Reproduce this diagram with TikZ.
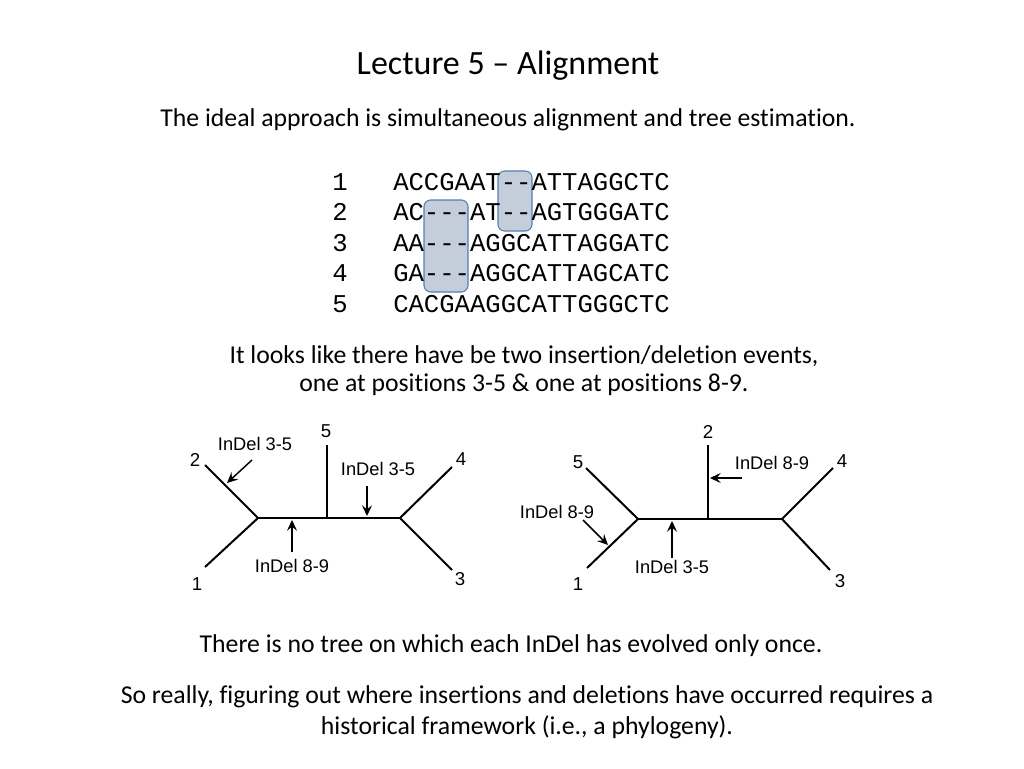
\documentclass[tikz,border=0pt]{standalone}
\usepackage{fontspec}
\setmainfont{Carlito}[Ligatures={TeX,NoCommon}]
\newfontfamily\alnfont{Liberation Mono}
\newfontfamily\treefont{Liberation Sans}
\usetikzlibrary{arrows.meta, calc}
\definecolor{gapfill}{RGB}{196,206,219}
\definecolor{gapedge}{RGB}{88,124,176}

\begin{document}
\begin{tikzpicture}[x=0.75pt,y=-0.75pt,
    slidetext/.style={font=\fontsize{19.3}{22}\selectfont, inner sep=0pt},
    titletext/.style={font=\fontsize{25.5}{30}\selectfont, inner sep=0pt},
    seqtext/.style={font=\alnfont\fontsize{19.2}{22}\selectfont, inner sep=0pt, anchor=base west},
    gapbox/.style={draw=gapedge, fill=gapfill, rounded corners=5pt, line width=0.8pt},
    branch/.style={line width=1.5pt},
    leaflab/.style={font=\treefont\fontsize{14}{16}\selectfont, inner sep=0pt},
    eventlab/.style={font=\treefont\fontsize{13.7}{16}\selectfont, inner sep=0pt},
    event/.style={line width=1.1pt, -{Stealth[length=8pt,width=7.5pt,inset=3pt]}}]
        \useasboundingbox (0,0) rectangle (1024,768);
        \node[titletext] (title) at (508,66) {Lecture 5 -- Alignment};
        \node[slidetext] (intro) at (508,120) {The ideal approach is simultaneous alignment and tree estimation.};
        % alignment
        \draw[gapbox] (424,200) rectangle (468,292);
        \draw[gapbox] (498,171) rectangle (532,231);
        \foreach \i/\s in {1/ACCGAAT--ATTAGGCTC, 2/AC---AT--AGTGGGATC, 3/AA---AGGCATTAGGATC,
                           4/GA---AGGCATTAGCATC, 5/CACGAAGGCATTGGGCTC} {
            \node[seqtext, anchor=base] (num\i) at (340,{190+(\i-1)*30.5}) {\i};
            \node[seqtext] (seq\i) at (393,{190+(\i-1)*30.5}) {\s};
        }
        \node[slidetext] (obs1) at (524,356) {It looks like there have be two insertion/deletion events,};
        \node[slidetext] (obs2) at (524,385) {one at positions 3-5 \& one at positions 8-9.};
        % left tree
        \coordinate (la) at (258,518);
        \coordinate (lb) at (400,518);
        \coordinate (lm) at (327,518);
        \coordinate (l1) at (205,567);
        \coordinate (l2) at (205,465);
        \coordinate (l3) at (452,570);
        \coordinate (l4) at (452,467);
        \coordinate (l5) at (327,445);
        \draw[branch] (l1) -- (la) -- (l2);
        \draw[branch] (la) -- (lb);
        \draw[branch] (lm) -- (l5);
        \draw[branch] (l4) -- (lb) -- (l3);
        \foreach \n/\x/\y in {1/197/584, 2/195/460, 3/460/579, 4/461/459, 5/326/431} {
            \node[leaflab] (ln\n) at (\x,\y) {\n};
        }
        \node[eventlab] (le1) at (255,444) {InDel 3-5};
        \node[eventlab] (le2) at (378,469) {InDel 3-5};
        \node[eventlab] (le3) at (292,566) {InDel 8-9};
        \coordinate (la1) at (252,460);
        \coordinate (la1e) at (227,483);
        \coordinate (la2) at (367,486);
        \coordinate (la2e) at (367,516);
        \coordinate (la3) at (292,552);
        \coordinate (la3e) at (292,520);
        \draw[event] (la1) -- (la1e);
        \draw[event] (la2) -- (la2e);
        \draw[event] (la3) -- (la3e);
        % right tree
        \coordinate (ra) at (638,519);
        \coordinate (rb) at (782,519);
        \coordinate (rm) at (708,519);
        \coordinate (r1) at (587,568);
        \coordinate (r5) at (586,468);
        \coordinate (r2) at (708,445);
        \coordinate (r3) at (830,570);
        \coordinate (r4) at (833,468);
        \draw[branch] (r1) -- (ra) -- (r5);
        \draw[branch] (ra) -- (rb);
        \draw[branch] (rm) -- (r2);
        \draw[branch] (r4) -- (rb) -- (r3);
        \foreach \n/\x/\y in {1/578/584, 2/708/432, 3/840/581, 4/842/461, 5/578/462} {
            \node[leaflab] (rn\n) at (\x,\y) {\n};
        }
        \node[eventlab] (re1) at (772,463) {InDel 8-9};
        \node[eventlab] (re2) at (557,512) {InDel 8-9};
        \node[eventlab] (re3) at (672,567) {InDel 3-5};
        \coordinate (ra1) at (742,478);
        \coordinate (ra1e) at (710,478);
        \coordinate (ra2) at (583,520);
        \coordinate (ra2e) at (608,545);
        \coordinate (ra3) at (672,558);
        \coordinate (ra3e) at (672,521);
        \draw[event] (ra1) -- (ra1e);
        \draw[event] (ra2) -- (ra2e);
        \draw[event] (ra3) -- (ra3e);
        % conclusions
        \node[slidetext] (conc1) at (511,646) {There is no tree on which each InDel has evolved only once.};
        \node[slidetext] (conc2) at (527,697) {So really, figuring out where insertions and deletions have occurred requires a};
        \node[slidetext] (conc3) at (527,727) {historical framework (i.e., a phylogeny).};
    \end{tikzpicture}
\end{document}
